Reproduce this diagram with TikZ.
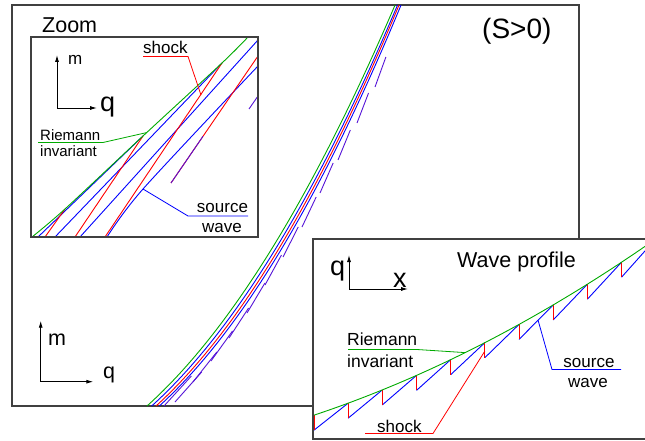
\documentclass[tikz,border=0pt]{standalone}
\usepackage{fontspec}
\setmainfont{Liberation Sans}
\usetikzlibrary{arrows.meta}
\definecolor{gr}{RGB}{0,170,0}
\definecolor{bl}{RGB}{0,0,255}
\definecolor{rd}{RGB}{255,0,0}
\definecolor{pu}{RGB}{85,20,215}
\begin{document}
\begin{tikzpicture}[x=1pt,y=-1pt,
  declare function={gx(\u)=147+18.6*(sqrt(\u+70)-8.3666);
                    wy(\x)=415.5-0.33203*(\x-313)-0.0005377*(\x-313)*(\x-313);},
  frame/.style={draw=black!75, line width=1.1pt},
  curve/.style={line width=0.9pt},
  lbl/.style={inner sep=0pt, anchor=base west},
  lblc/.style={inner sep=0pt, anchor=base},
  axisarrow/.style={-{Latex[length=7pt,width=4pt]}, line width=0.9pt},
  fa/.style={font=\fontsize{15}{18}\selectfont},
  fb/.style={font=\fontsize{17}{20}\selectfont},
  fc/.style={font=\fontsize{21.5}{25}\selectfont},
  fd/.style={font=\fontsize{27}{31}\selectfont},
  fe/.style={font=\fontsize{28}{32}\selectfont},
]
\path[use as bounding box] (0,0) rectangle (645,441);
\clip (0,0) rectangle (645,441);

% ---------- main frame ----------
\draw[frame] (12,5) rectangle (579,406);

% main bundle
\draw[bl,curve] plot[domain=0:401,samples=80,variable=\u] ({gx(\u)+12.3-6.3*\u/401},{406-\u});
\draw[rd,curve] plot[domain=0:401,samples=80,variable=\u] ({gx(\u)+9-5*\u/401},{406-\u});
\draw[bl,curve] plot[domain=0:401,samples=80,variable=\u] ({gx(\u)+4.7-2.2*\u/401},{406-\u});
\draw[gr,curve] plot[domain=0:401,samples=80,variable=\u] ({gx(\u)},{406-\u});
\foreach \sx/\sy in {164/406,175/402,193/382,211/361,229/338,247/313,265/285,283/257,302/227,320/193,338/160,357/123,375/87}{
  \pgfmathsetmacro\ua{406-\sy}
  \pgfmathsetmacro\ub{436-\sy}
  \pgfmathsetmacro\ex{gx(\ub)+\sx-gx(\ua)-3}
  \draw[pu,curve] (\sx,\sy) -- (\ex,{406-\ub});
}

% main axes
\coordinate (mo) at (40.7,381.7);
\coordinate (mm) at (40.7,320.7);
\coordinate (mq) at (93.3,381.7);
\draw[axisarrow] (mo) -- (mm);
\draw[axisarrow] (mo) -- (mq);
\node[lbl,fc] (mlab) at (48,345) {m};
\node[lbl,fc] (qlab) at (103,378) {q};

\node[lbl,fe] (sgt) at (482,39) {(S>0)};
\node[lbl,fc] (zoomt) at (42,33) {Zoom};

% ---------- zoom inset ----------
\draw[frame,fill=white] (31,37) rectangle (258,237);
\begin{scope}
\clip (31,37) rectangle (258,237);
\coordinate (J1) at (65,209);
\coordinate (J2) at (143,136);
\coordinate (J3) at (222,63);
\draw[bl,curve] (38,237) -- (J2);
\draw[bl,curve] (55,237) -- (J3);
\draw[bl,curve] (80,237) -- (258,40);
\draw[bl,curve] plot[smooth] coordinates {(107,237) (143,189) (258,66)};
\draw[rd,curve] (45,237) -- (J1);
\draw[rd,curve] (75,237) -- (J2);
\draw[rd,curve] (105,237) -- (J3);
\draw[rd,curve] (171,183) -- (258,56);
\draw[pu,curve] (171,183) -- (203,136.3);
\draw[pu,curve] (249,109) -- (258,96);
\draw[gr,curve] plot[smooth] coordinates {(32,237) (J1) (J2) (J3) (248,37)};
\end{scope}
\draw[frame] (31,37) rectangle (258,237);

\coordinate (zo) at (57,108);
\coordinate (zm) at (57,55);
\coordinate (zq) at (97,108);
\draw[axisarrow] (zo) -- (zm);
\draw[axisarrow] (zo) -- (zq);
\node[lbl,fb] (zmlab) at (68,65) {m};
\node[lbl,fd] (zqlab) at (100,112) {q};

\node[lbl,fb] (zshock) at (143,54) {shock};
\coordinate (zs1) at (143,56.5);
\coordinate (zs2) at (188,56.5);
\coordinate (zs3) at (201,95);
\draw[rd,line width=0.8pt] (zs1) -- (zs2) -- (zs3);

\node[lbl,fa] (zriem) at (40,140) {Riemann};
\node[lbl,fa] (zinv) at (40,157) {invariant};
\coordinate (zr1) at (38,142.5);
\coordinate (zr2) at (103,142.5);
\coordinate (zr3) at (147,132.5);
\draw[gr,line width=0.8pt] (zr1) -- (zr2) -- (zr3);

\node[lblc,fb] (zsrc) at (222.5,212) {source};
\node[lblc,fb] (zwave) at (222,232) {wave};
\coordinate (zw1) at (248,216);
\coordinate (zw2) at (188,216);
\coordinate (zw3) at (143,189);
\draw[bl,line width=0.8pt] (zw1) -- (zw2) -- (zw3);

% ---------- wave profile inset ----------
\draw[frame,fill=white] (313,239) rectangle (650,439);
\begin{scope}
\clip (313,239) rectangle (650,439);
\foreach \k in {0,...,9}{
  \pgfmathsetmacro\xa{314+34.17*\k}
  \pgfmathsetmacro\xb{314+34.17*(\k+1)}
  \draw[bl,curve] (\xa,{wy(\xa)+15}) -- (\xb,{wy(\xb)});
  \draw[rd,curve] (\xa,{wy(\xa)}) -- (\xa,{wy(\xa)+15});
}
\draw[gr,curve] plot[domain=313:650,samples=60] (\x,{wy(\x)});
\end{scope}
\draw[frame] (313,239) rectangle (650,439);

\node[lbl,fc] (wtitle) at (457,267) {Wave profile};
\coordinate (wo) at (349,289);
\coordinate (wq) at (349,255);
\coordinate (wx) at (408,289);
\draw[axisarrow] (wo) -- (wq);
\draw[axisarrow] (wo) -- (wx);
\node[lbl,fd] (wqlab) at (330,275) {q};
\node[lbl,fd] (wxlab) at (393,287) {x};

\node[lbl,font=\fontsize{17.5}{21}\selectfont] (wriem) at (347,345) {Riemann};
\node[lbl,font=\fontsize{17.5}{21}\selectfont] (winv) at (347,367) {invariant};
\coordinate (wr1) at (348,349.5);
\coordinate (wr2) at (417,349.5);
\coordinate (wr3) at (465,352.6);
\draw[gr,line width=0.8pt] (wr1) -- (wr2) -- (wr3);

\node[lblc,fb] (wsrc) at (589,367) {source};
\node[lblc,fb] (wwave) at (588,387) {wave};
\coordinate (ws1) at (621,369.5);
\coordinate (ws2) at (552,369.5);
\coordinate (ws3) at (538,320);
\draw[bl,line width=0.8pt] (ws1) -- (ws2) -- (ws3);

\node[lbl,fb] (wshock) at (377,432) {shock};
\coordinate (wk1) at (365,433.5);
\coordinate (wk2) at (433,433.5);
\coordinate (wk3) at (484.9,351);
\draw[rd,line width=0.8pt] (wk1) -- (wk2) -- (wk3);
\end{tikzpicture}
\end{document}
